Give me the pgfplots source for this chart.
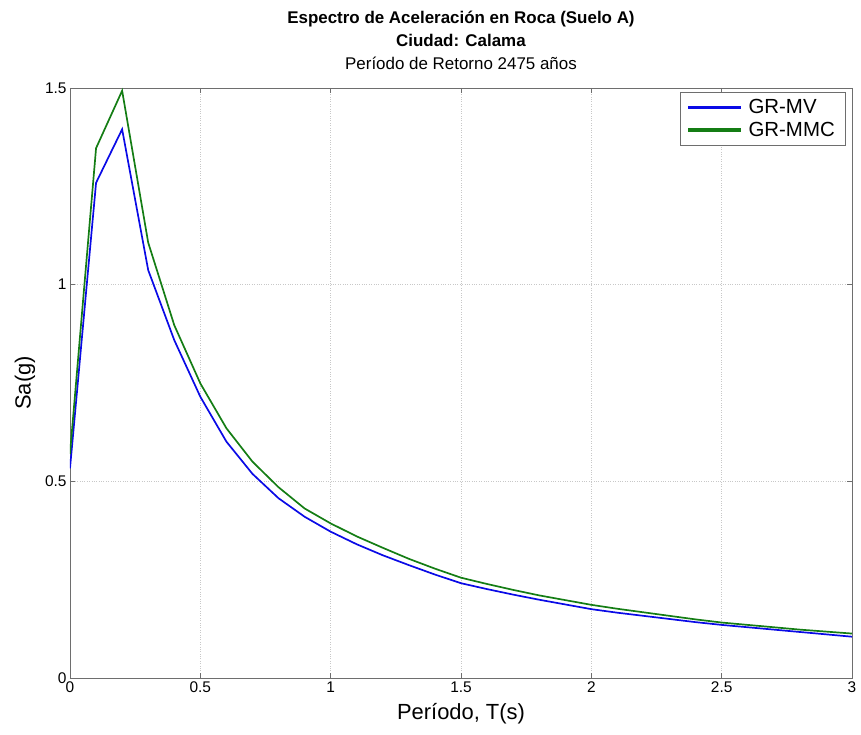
\documentclass[border=0pt]{standalone}
\usepackage{pgfplots}
\pgfplotsset{compat=1.18}
\usepackage{fontspec}
\setmainfont{Liberation Sans}
\definecolor{mblue}{RGB}{10,10,230}
\definecolor{mgreen}{RGB}{20,125,20}
\definecolor{gridc}{RGB}{200,200,200}
\definecolor{axc}{RGB}{110,110,110}
\begin{document}
\begin{tikzpicture}
\begin{axis}[name=ax,
  scale only axis, width=782bp, height=590bp,
  xmin=0, xmax=3, ymin=0, ymax=1.5,
  xtick={0,0.5,1,1.5,2,2.5,3},
  ytick={0,0.5,1,1.5},
  xticklabels={0,0.5,1,1.5,2,2.5,3},
  yticklabels={0,0.5,1,1.5},
  /pgf/number format/assume math mode=true,
  tick label style={font=\fontsize{15.5}{18}\selectfont},
  tick align=inside, tick pos=both,
  major tick length=5bp,
  axis line style={axc, line width=0.8pt},
  tick style={axc, line width=0.8pt},
  grid=major,
  major grid style={gridc, dotted, line width=0.6pt},
  xlabel={Período, T(s)},
  ylabel={Sa(g)},
  xlabel style={font=\fontsize{22}{26}\selectfont, at={(axis description cs:0.5,-0.061)}, anchor=center},
  ylabel style={font=\fontsize{22}{26}\selectfont, at={(axis description cs:-0.0575,0.5)}, anchor=center},
  title={\textbf{Espectro de Aceleración en Roca (Suelo A)}\\\textbf{Ciudad: Calama}\\Período de Retorno 2475 años},
  title style={font=\fontsize{17}{23}\selectfont, align=center, at={(axis description cs:0.5,1.071)}, anchor=center},
  legend style={at={(axis description cs:0.991,0.993)}, anchor=north east,
    font=\fontsize{20.5}{24}\selectfont, draw=axc,
    inner xsep=8bp, inner ysep=5bp, row sep=3bp},
  legend cell align=left,
  legend image code/.code={\fill[#1] (0bp,-0.85pt) rectangle (51bp,0.85pt);},
]
\addplot[mblue, line width=1.7pt] coordinates {
(0,0.533) (0.1,1.259) (0.2,1.395) (0.3,1.037) (0.4,0.859) (0.5,0.715)
(0.6,0.601) (0.7,0.519) (0.8,0.457) (0.9,0.410) (1.0,0.372)
(1.1,0.340) (1.2,0.312) (1.3,0.287) (1.4,0.263) (1.5,0.241)
(1.6,0.226) (1.7,0.212) (1.8,0.199) (1.9,0.187) (2.0,0.175)
(2.1,0.166) (2.2,0.158) (2.3,0.150) (2.4,0.142) (2.5,0.135)
(2.6,0.129) (2.7,0.123) (2.8,0.117) (2.9,0.111) (3.0,0.105)
};
\addlegendentry{\hspace{6bp}GR-MV}
\addplot[mgreen, line width=1.7pt] coordinates {
(0,0.570) (0.1,1.347) (0.2,1.493) (0.3,1.107) (0.4,0.897) (0.5,0.749)
(0.6,0.635) (0.7,0.550) (0.8,0.485) (0.9,0.431) (1.0,0.393)
(1.1,0.360) (1.2,0.331) (1.3,0.303) (1.4,0.278) (1.5,0.255)
(1.6,0.239) (1.7,0.224) (1.8,0.210) (1.9,0.198) (2.0,0.186)
(2.1,0.176) (2.2,0.167) (2.3,0.158) (2.4,0.149) (2.5,0.141)
(2.6,0.135) (2.7,0.129) (2.8,0.123) (2.9,0.118) (3.0,0.113)
};
\addlegendentry{\hspace{6bp}GR-MMC}
\end{axis}
\pgfresetboundingbox
\path ([xshift=-70bp,yshift=-57bp]ax.south west) rectangle ([xshift=9bp,yshift=88bp]ax.north east);
\end{tikzpicture}
\end{document}
